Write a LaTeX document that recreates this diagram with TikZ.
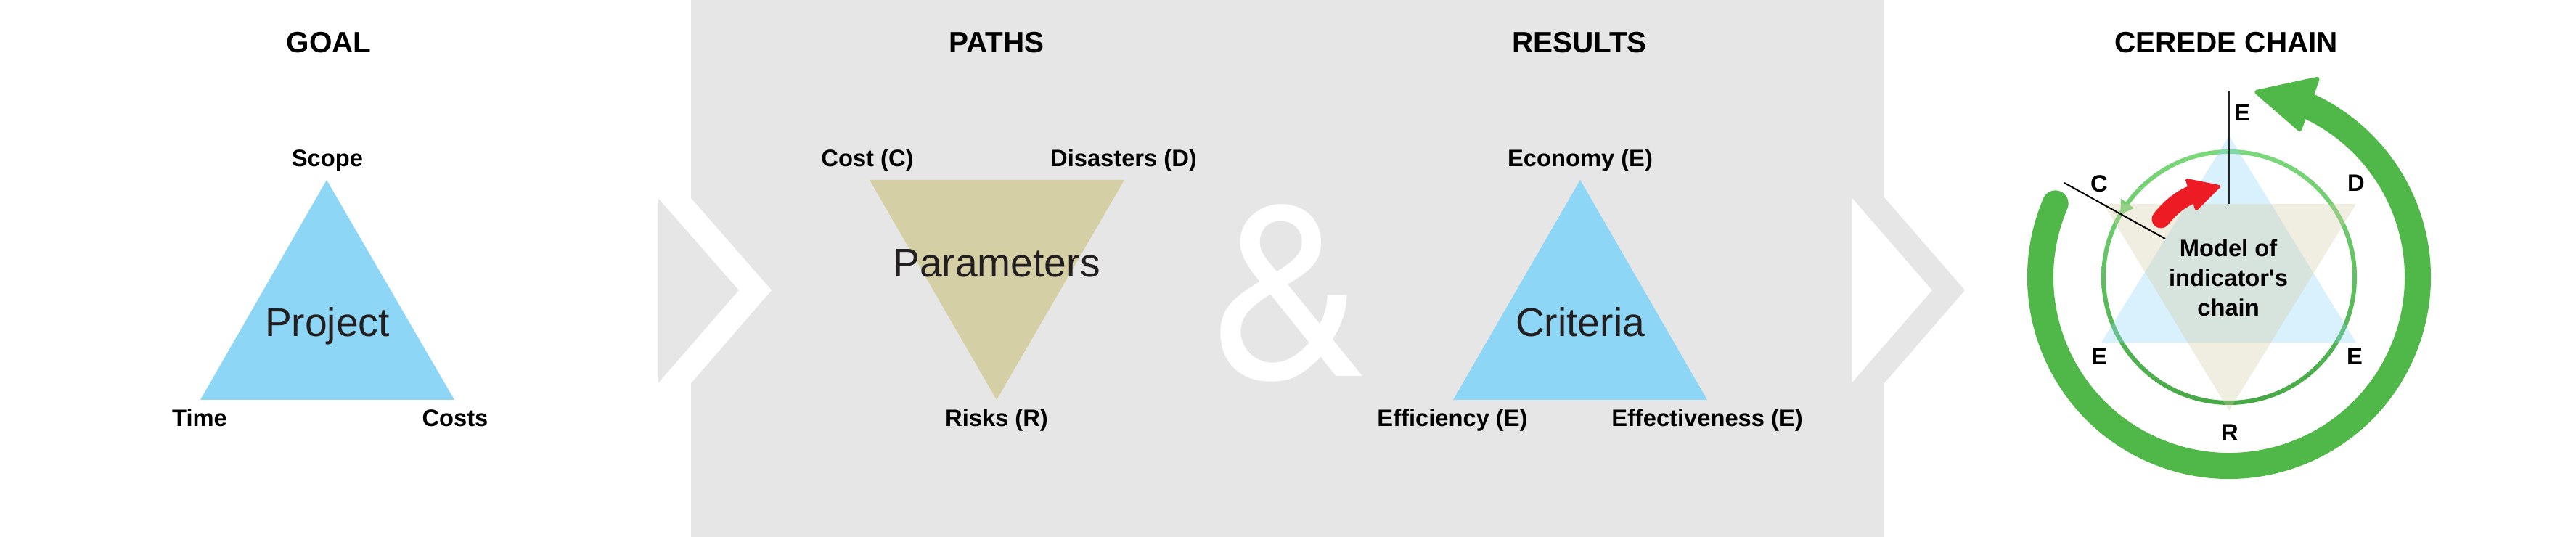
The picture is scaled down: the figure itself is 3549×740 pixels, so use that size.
\documentclass[tikz,border=0pt]{standalone}
\usepackage{fontspec}
\setmainfont{Liberation Sans}
\newfontfamily\ampfont{TeX Gyre Heros}
\usepackage{xcolor}
\usepackage{tikz}

\definecolor{panelgray}{HTML}{E6E6E6}
\definecolor{skyblue}{HTML}{8ED6F6}
\definecolor{khaki}{HTML}{D5CFA5}
\definecolor{inktext}{HTML}{231F20}
\definecolor{loopgreen}{HTML}{50B848}
\definecolor{ringtop}{HTML}{7BD87B}
\definecolor{ringbot}{HTML}{45A845}
\definecolor{arrowred}{HTML}{ED1C24}

\begin{document}
\begin{tikzpicture}[x=0.01cm, y=0.01cm,
    heading/.style={font=\fontsize{11.5}{14}\selectfont\bfseries, anchor=base, inner sep=0},
    corner/.style={font=\fontsize{9.3}{11.7}\selectfont\bfseries, anchor=base, inner sep=0},
    inside/.style={font=\fontsize{15.7}{19}\selectfont, text=inktext, anchor=base, inner sep=0},
    fulltri/.style={fill=skyblue},
    paletri/.style={fill opacity=0.35},
    pointer/.style={line width=0.02cm, black!85}
]
\useasboundingbox (0,0) rectangle (3549,740);

% Background panel and chevrons
\fill[panelgray] (952,0) rectangle (2596,740);
\fill[panelgray] (907,467) -- (1018,340) -- (907,212) -- cycle;
\fill[white] (907,467) -- (1018,340) -- (907,212) -- (952,212) -- (1063,340) -- (952,467) -- cycle;
\fill[white] (2551,468) -- (2662,340) -- (2551,212) -- cycle;
\fill[panelgray] (2551,468) -- (2662,340) -- (2551,212) -- (2596,212) -- (2707,340) -- (2596,468) -- cycle;

% Headings
\node[heading] (goal) at (453,667) {GOAL};
\node[heading] (paths) at (1373,667) {PATHS};
\node[heading] (results) at (2176,667) {RESULTS};
\node[heading] (cerede) at (3067,667) {CEREDE CHAIN};

% Goal triangle
\coordinate (scopeTip) at (450,492);
\coordinate (timeTip) at (276,189);
\coordinate (costsTip) at (626,189);
\fill[fulltri] (scopeTip) -- (costsTip) -- (timeTip) -- cycle;
\node[inside] (project) at (451,276) {Project};
\node[corner] (scope) at (451,510) {Scope};
\node[corner] (time) at (275,152) {Time};
\node[corner] (costs) at (627,152) {Costs};

% Paths triangle
\coordinate (costTip) at (1198,492);
\coordinate (disTip) at (1549,492);
\coordinate (riskTip) at (1373,189);
\fill[khaki] (costTip) -- (disTip) -- (riskTip) -- cycle;
\node[inside] (params) at (1373,358) {Parameters};
\node[corner] (cost) at (1195,510) {Cost (C)};
\node[corner] (disasters) at (1548,510) {Disasters (D)};
\node[corner] (risks) at (1373,152) {Risks (R)};

% Ampersand
\node[font=\ampfont\fontsize{95}{95}\selectfont, text=white, anchor=base, inner sep=0] (amp) at (1776,221) {\&};

% Results triangle
\coordinate (ecoTip) at (2177,492);
\coordinate (effiTip) at (2002,189);
\coordinate (effeTip) at (2352,189);
\fill[fulltri] (ecoTip) -- (effeTip) -- (effiTip) -- cycle;
\node[inside] (criteria) at (2177,276) {Criteria};
\node[corner] (economy) at (2177,510) {Economy (E)};
\node[corner] (efficiency) at (2001,152) {Efficiency (E)};
\node[corner] (effective) at (2352,152) {Effectiveness (E)};

% Cerede chain
\begin{scope}[shift={(3071,358)}]
  % outer cycle arrow
  \draw[loopgreen, line width=0.36cm, line cap=round] (157:260) arc[start angle=157, end angle=428, radius=260];
  \filldraw[loopgreen, line width=0.06cm, line join=round] (66:299) -- (81.5:258) -- (64.5:226) -- cycle;
  % inner ring
  \shade[top color=ringtop, bottom color=ringbot, even odd rule] (0,0) circle[radius=176] (0,0) circle[radius=170];
  \fill[ringtop!85!ringbot] (144:184) -- (150:173) -- (144:162) -- cycle;
  % hexagram
  \fill[skyblue, paletri] (0,195) -- (175,-90) -- (-176,-90) -- cycle;
  \fill[khaki, paletri] (-173,101) -- (175,101) -- (0,-184) -- cycle;
  % red arrow
  \draw[arrowred, line width=0.25cm, line cap=round] (-94,80) .. controls (-81,96) and (-68,107) .. (-51,114);
  \filldraw[arrowred, line width=0.04cm, line join=round] (-58,134) -- (-14,125) -- (-45,94) -- cycle;
  % pointers
  \coordinate (eTop) at (0,257);
  \coordinate (eFoot) at (0,101);
  \coordinate (cTop) at (-227,130);
  \coordinate (cFoot) at (-88,53);
  \draw[pointer] (eTop) -- (eFoot);
  \draw[pointer, black] (cTop) -- (cFoot);
  % letters
  \node[corner] (eco) at (18,215) {E};
  \node[corner] (c) at (-179,117) {C};
  \node[corner] (d) at (175,118) {D};
  \node[corner] (effi) at (-179,-121) {E};
  \node[corner] (effe) at (173,-121) {E};
  \node[corner] (r) at (1,-226) {R};
  \node[corner, anchor=center, align=center] (model) at (-1,-1) {Model of\\indicator\textquotesingle s\\chain};
\end{scope}

\end{tikzpicture}
\end{document}
